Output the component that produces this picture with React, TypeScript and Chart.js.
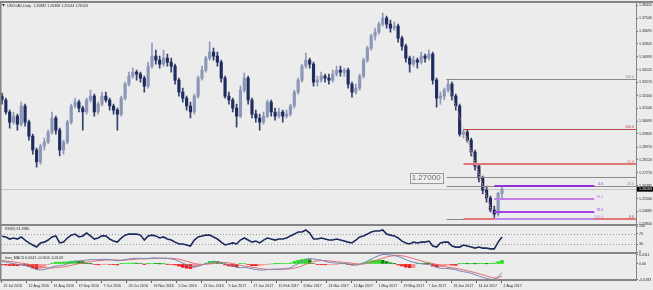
import React, { useEffect, useRef } from 'react';
import { Chart, registerables } from 'chart.js';

Chart.register(...registerables);

const BG = '#ececec';
const FRAME = '#858585';
const FONT = '"Liberation Sans", Arial, sans-serif';
const SMALL = 3.6;

// ---------- texts ----------
const headerSymbol = 'USDCAD,Daily';
const headerOHLC = ['1.25882', '1.26368', '1.25544', '1.26163'];
const rsiLabel = 'RSI(9) 61.3980';
const macdLabel = 'Ines_MACD 0.0041 -0.0103 -0.0143';

// ---------- axes ----------
const dateLabels = ['25 Jul 2016', '12 Aug 2016', '31 Aug 2016', '19 Sep 2016', '7 Oct 2016', '26 Oct 2016', '16 Nov 2016', '5 Dec 2016', '21 Dec 2016', '9 Jan 2017', '27 Jan 2017', '15 Feb 2017', '6 Mar 2017', '24 Mar 2017', '12 Apr 2017', '1 May 2017', '19 May 2017', '7 Jun 2017', '26 Jun 2017', '14 Jul 2017', '2 Aug 2017'];
const dateTickBars = [0, 6.5, 13, 19.5, 26, 32.5, 39, 45.5, 52, 58.5, 65, 71.5, 78, 84.5, 91, 97.5, 104, 110.5, 117, 123.5, 130];
const priceTicks = [1.2384, 1.24685, 1.2554, 1.26385, 1.2727, 1.2812, 1.2897, 1.29845, 1.30695, 1.3154, 1.324, 1.3327, 1.3412, 1.34995, 1.35845, 1.36695, 1.3754, 1.3842];
const rsiTicks = [0, 30, 70, 100];
const rsiLevels = [30, 70];
const macdTicks = [-0.0183, 0, 0.0111];

// ---------- price bars (2-day bars) ----------
const barOpen = [1.3236,1.3210,1.3130,1.3063,1.3103,1.3050,1.3170,1.3063,1.2970,1.2877,
1.2797,1.2903,1.2930,1.2996,1.3090,1.3010,1.2877,1.2930,1.3063,1.3170,
1.3196,1.3156,1.3130,1.3210,1.3236,1.3130,1.3183,1.3236,1.3210,1.3170,
1.3143,1.3116,1.3223,1.3316,1.3369,1.3396,1.3383,1.3356,1.3303,1.3436,
1.3502,1.3476,1.3449,1.3489,1.3463,1.3436,1.3343,1.3263,1.3223,1.3170,
1.3130,1.3236,1.3356,1.3409,1.3489,1.3529,1.3502,1.3463,1.3356,1.3236,
1.3210,1.3156,1.3103,1.3276,1.3356,1.3210,1.3116,1.3090,1.3063,1.3103,
1.3196,1.3130,1.3103,1.3130,1.3103,1.3116,1.3170,1.3263,1.3343,1.3436,
1.3476,1.3449,1.3329,1.3343,1.3369,1.3356,1.3343,1.3383,1.3409,1.3396,
1.3409,1.3316,1.3263,1.3289,1.3369,1.3476,1.3556,1.3636,1.3662,1.3716,
1.3756,1.3716,1.3689,1.3702,1.3622,1.3569,1.3489,1.3449,1.3476,1.3463,
1.3502,1.3489,1.3516,1.3343,1.3223,1.3236,1.3276,1.3316,1.3236,1.3170,
1.2983,1.2996,1.2943,1.2863,1.2770,1.2690,1.2610,1.2557,1.2477,1.2450,
1.2588];
const barHigh = [1.3256,1.3223,1.3143,1.3130,1.3116,1.3196,1.3183,1.3076,1.2983,1.2890,
1.2917,1.2957,1.3010,1.3130,1.3103,1.3023,1.2943,1.3076,1.3183,1.3223,
1.3210,1.3170,1.3223,1.3276,1.3249,1.3196,1.3263,1.3263,1.3223,1.3183,
1.3156,1.3236,1.3329,1.3396,1.3423,1.3409,1.3396,1.3369,1.3463,1.3589,
1.3542,1.3502,1.3542,1.3516,1.3489,1.3449,1.3356,1.3289,1.3236,1.3196,
1.3249,1.3369,1.3436,1.3502,1.3596,1.3556,1.3529,1.3476,1.3369,1.3263,
1.3223,1.3183,1.3303,1.3389,1.3369,1.3223,1.3143,1.3116,1.3130,1.3210,
1.3210,1.3156,1.3156,1.3143,1.3143,1.3183,1.3276,1.3356,1.3449,1.3522,
1.3489,1.3463,1.3369,1.3396,1.3383,1.3383,1.3409,1.3436,1.3436,1.3423,
1.3423,1.3329,1.3316,1.3383,1.3489,1.3569,1.3649,1.3689,1.3729,1.3789,
1.3769,1.3742,1.3729,1.3716,1.3636,1.3582,1.3502,1.3502,1.3489,1.3529,
1.3516,1.3542,1.3529,1.3356,1.3263,1.3289,1.3349,1.3329,1.3249,1.3183,
1.3016,1.3010,1.2957,1.2877,1.2783,1.2704,1.2637,1.2570,1.2504,1.2597,
1.2637];
const barLow = [1.3183,1.3116,1.3023,1.3050,1.3010,1.3036,1.3036,1.2943,1.2850,1.2763,
1.2783,1.2877,1.2917,1.2983,1.2983,1.2837,1.2850,1.2917,1.3050,1.3156,
1.3130,1.3010,1.3116,1.3196,1.3103,1.3116,1.3170,1.3196,1.3143,1.3116,
1.3010,1.3103,1.3210,1.3303,1.3356,1.3343,1.3329,1.3263,1.3289,1.3423,
1.3449,1.3423,1.3436,1.3436,1.3396,1.3316,1.3236,1.3196,1.3143,1.3090,
1.3116,1.3223,1.3343,1.3396,1.3476,1.3476,1.3436,1.3329,1.3223,1.3183,
1.3130,1.3030,1.3090,1.3263,1.3183,1.3090,1.3063,1.3010,1.3050,1.3090,
1.3103,1.3076,1.3090,1.3063,1.3090,1.3103,1.3156,1.3249,1.3329,1.3423,
1.3423,1.3303,1.3303,1.3329,1.3329,1.3316,1.3329,1.3369,1.3369,1.3369,
1.3289,1.3229,1.3249,1.3276,1.3356,1.3463,1.3542,1.3609,1.3649,1.3702,
1.3689,1.3662,1.3676,1.3596,1.3542,1.3463,1.3396,1.3436,1.3423,1.3449,
1.3463,1.3476,1.3316,1.3163,1.3183,1.3210,1.3263,1.3210,1.3143,1.2970,
1.2957,1.2930,1.2837,1.2743,1.2664,1.2584,1.2530,1.2464,1.2417,1.2437,
1.2554];
const barClose = [1.3210,1.3130,1.3063,1.3103,1.3050,1.3170,1.3063,1.2970,1.2877,1.2797,
1.2903,1.2930,1.2996,1.3090,1.3010,1.2877,1.2930,1.3063,1.3170,1.3196,
1.3156,1.3130,1.3210,1.3236,1.3130,1.3183,1.3236,1.3210,1.3170,1.3143,
1.3116,1.3223,1.3316,1.3369,1.3396,1.3383,1.3356,1.3303,1.3436,1.3502,
1.3476,1.3449,1.3489,1.3463,1.3436,1.3343,1.3263,1.3223,1.3170,1.3130,
1.3236,1.3356,1.3409,1.3489,1.3529,1.3502,1.3463,1.3356,1.3236,1.3210,
1.3156,1.3103,1.3276,1.3356,1.3210,1.3116,1.3090,1.3063,1.3103,1.3196,
1.3130,1.3103,1.3130,1.3103,1.3116,1.3170,1.3263,1.3343,1.3436,1.3476,
1.3449,1.3329,1.3343,1.3369,1.3356,1.3343,1.3383,1.3409,1.3396,1.3409,
1.3316,1.3263,1.3289,1.3369,1.3476,1.3556,1.3636,1.3662,1.3716,1.3756,
1.3716,1.3689,1.3702,1.3622,1.3569,1.3489,1.3449,1.3476,1.3463,1.3502,
1.3489,1.3516,1.3343,1.3223,1.3236,1.3276,1.3316,1.3236,1.3170,1.2983,
1.2996,1.2943,1.2863,1.2770,1.2690,1.2610,1.2557,1.2477,1.2450,1.2588,
1.2616];

// ---------- indicators ----------
const rsiValues = [61,58,50,54,50,58,46,35,27,19,
35,38,46,58,62,35,38,54,65,69,
58,62,73,62,50,54,62,62,50,42,
38,54,65,69,69,69,65,46,62,65,
62,54,58,50,46,38,31,31,27,23,
46,58,62,65,65,58,50,38,27,31,
35,31,46,54,46,38,42,35,46,54,
50,46,50,50,54,62,69,77,77,85,
73,50,50,54,50,46,46,50,46,42,
38,35,46,58,62,69,77,81,81,85,
69,65,62,54,42,35,31,38,35,38,
38,42,23,19,35,38,38,23,19,19,
27,23,19,15,19,15,15,12,12,38,
58];
const macdMain = [0.0030,0.0022,0.0012,0.0004,-0.0005,-0.0008,-0.0016,-0.0030,-0.0048,-0.0066,
-0.0070,-0.0066,-0.0054,-0.0036,-0.0024,-0.0020,-0.0012,0.0000,0.0016,0.0030,
0.0036,0.0040,0.0046,0.0052,0.0050,0.0050,0.0054,0.0054,0.0050,0.0044,
0.0038,0.0042,0.0050,0.0058,0.0064,0.0066,0.0066,0.0060,0.0064,0.0070,
0.0070,0.0068,0.0068,0.0064,0.0060,0.0050,0.0030,0.0010,-0.0010,-0.0028,
-0.0034,-0.0026,-0.0012,0.0004,0.0018,0.0026,0.0028,0.0020,0.0004,-0.0012,
-0.0026,-0.0040,-0.0044,-0.0040,-0.0046,-0.0058,-0.0066,-0.0072,-0.0072,-0.0066,
-0.0064,-0.0062,-0.0060,-0.0058,-0.0054,-0.0046,-0.0020,0.0004,0.0030,0.0054,
0.0064,0.0058,0.0050,0.0046,0.0030,0.0020,0.0014,0.0010,0.0008,0.0006,
0.0000,-0.0010,-0.0014,-0.0006,0.0012,0.0034,0.0058,0.0080,0.0098,0.0111,
0.0110,0.0106,0.0100,0.0088,0.0072,0.0050,0.0032,0.0020,0.0010,0.0002,
-0.0004,-0.0006,-0.0020,-0.0040,-0.0050,-0.0054,-0.0054,-0.0060,-0.0068,-0.0082,
-0.0092,-0.0098,-0.0110,-0.0126,-0.0142,-0.0158,-0.0170,-0.0180,-0.0183,-0.0150,
-0.0103];
const macdSignal = [0.0040,0.0036,0.0030,0.0024,0.0016,0.0010,0.0004,-0.0004,-0.0014,-0.0026,
-0.0036,-0.0044,-0.0048,-0.0048,-0.0044,-0.0040,-0.0034,-0.0026,-0.0016,-0.0006,
0.0004,0.0012,0.0020,0.0028,0.0034,0.0038,0.0042,0.0046,0.0048,0.0048,
0.0046,0.0045,0.0046,0.0049,0.0053,0.0057,0.0060,0.0061,0.0062,0.0064,
0.0066,0.0067,0.0067,0.0067,0.0066,0.0062,0.0055,0.0045,0.0032,0.0018,
0.0006,-0.0002,-0.0006,-0.0005,0.0000,0.0006,0.0012,0.0016,0.0016,0.0012,
0.0004,-0.0006,-0.0016,-0.0024,-0.0030,-0.0038,-0.0046,-0.0054,-0.0060,-0.0063,
-0.0064,-0.0064,-0.0063,-0.0062,-0.0060,-0.0057,-0.0050,-0.0038,-0.0022,-0.0004,
0.0014,0.0028,0.0036,0.0040,0.0040,0.0036,0.0032,0.0027,0.0022,0.0018,
0.0014,0.0008,0.0002,-0.0002,0.0000,0.0008,0.0020,0.0036,0.0052,0.0068,
0.0082,0.0092,0.0098,0.0100,0.0096,0.0088,0.0076,0.0062,0.0048,0.0036,
0.0024,0.0014,0.0006,-0.0006,-0.0018,-0.0030,-0.0040,-0.0046,-0.0052,-0.0060,
-0.0070,-0.0080,-0.0090,-0.0102,-0.0114,-0.0128,-0.0142,-0.0155,-0.0166,-0.0163,
-0.0143];
const macdHist = [-0.0010,-0.0014,-0.0018,-0.0020,-0.0021,-0.0018,-0.0020,-0.0030,-0.0048,-0.0060,
-0.0050,-0.0030,-0.0008,0.0010,0.0020,0.0020,0.0022,0.0026,0.0032,0.0036,
0.0032,0.0028,0.0010,0.0002,-0.0006,-0.0010,-0.0008,-0.0006,-0.0006,-0.0008,
-0.0012,0.0002,0.0006,0.0009,0.0011,0.0009,0.0006,-0.0001,0.0002,0.0006,
0.0004,0.0001,0.0001,-0.0003,-0.0006,-0.0012,-0.0025,-0.0040,-0.0050,-0.0055,
-0.0042,-0.0024,-0.0006,0.0009,0.0030,0.0034,0.0026,0.0004,-0.0012,-0.0024,
-0.0030,-0.0034,0.0004,0.0006,-0.0004,-0.0020,-0.0020,-0.0018,-0.0012,-0.0003,
0.0000,0.0002,0.0003,0.0004,0.0006,0.0011,0.0030,0.0042,0.0052,0.0058,
0.0050,0.0006,-0.0004,-0.0008,-0.0010,-0.0008,-0.0006,-0.0002,0.0002,0.0002,
-0.0004,-0.0012,-0.0010,0.0000,0.0012,0.0026,0.0038,0.0044,0.0046,0.0043,
0.0028,0.0014,0.0002,-0.0012,-0.0024,-0.0038,-0.0044,-0.0042,0.0002,0.0003,
0.0002,0.0001,-0.0026,-0.0034,-0.0032,-0.0024,-0.0014,-0.0014,-0.0016,0.0002,
0.0003,0.0002,0.0003,0.0002,0.0003,0.0003,0.0002,0.0003,0.0010,0.0026,
0.0041];

// ---------- drawn objects ----------
const bidPrice = 1.26163;
const bidLabel = '1.26163';
const hLinePrice = 1.27;
const hLineLabel = '1.27000';
const hLineStartBar = 115.6;
const fibGrayBar = 115.6;
const fibGrayP100 = 1.3349;
const fibGrayP0 = 1.2417;
const fibGrayLevels = [100, 23.6, 0];
const fibRedBar = 120;
const fibRedP100 = 1.3016;
const fibRedP0 = 1.2417;
const fibRedLevels = [100, 61.8, 0];
const fibPurpleBar = 128;
const fibPurpleEndBar = 154;
const fibPurpleP0 = 1.2637;
const fibPurpleP100 = 1.2417;
const fibPurpleLevels = [0, 38.2, 78.6, 100];

const strokeLine = (ctx: any, x1: number, y1: number, x2: number, y2: number) => {
  ctx.beginPath();
  ctx.moveTo(x1, y1);
  ctx.lineTo(x2, y2);
  ctx.stroke();
};

const crisp = (v: number, w: number) => (Math.round(w) % 2 === 1 ? Math.round(v) + 0.5 : Math.round(v));

function drawFib(ctx: any, chart: any, startBar: number, endX: number, p100: number, p0: number, levels: number[], colors: string[], widths: number[], labelX: number) {
  const xs = chart.scales.x.getPixelForValue(startBar);
  const ys = chart.scales.y;
  levels.forEach((lv, i) => {
    const price = p0 + ((p100 - p0) * lv) / 100;
    const py = crisp(ys.getPixelForValue(price), widths[i]);
    ctx.strokeStyle = colors[i];
    ctx.lineWidth = widths[i];
    strokeLine(ctx, xs, py, endX, py);
    ctx.fillStyle = colors[i];
    ctx.font = `${SMALL}px ${FONT}`;
    ctx.textAlign = 'right';
    ctx.textBaseline = 'bottom';
    ctx.fillText(lv.toFixed(1), labelX, py - 0.6);
  });
}

const overlay = {
  id: 'mtOverlay',
  beforeDraw(chart: any) {
    const { ctx, width, height } = chart;
    ctx.save();
    ctx.fillStyle = BG;
    ctx.fillRect(0, 0, width, height);
    ctx.restore();
  },
  beforeDatasetsDraw(chart: any) {
    const { ctx, chartArea, scales } = chart;
    ctx.save();
    const by = crisp(scales.y.getPixelForValue(bidPrice), 1);
    ctx.strokeStyle = '#c6c6c6';
    ctx.lineWidth = 1;
    strokeLine(ctx, chartArea.left, by, chartArea.right, by);
    ctx.setLineDash([1, 2]);
    ctx.strokeStyle = '#9a9a9a';
    rsiLevels.forEach((lv) => {
      const py = crisp(scales.yRsi.getPixelForValue(lv), 1);
      strokeLine(ctx, chartArea.left, py, chartArea.right, py);
    });
    ctx.restore();
  },
  afterDatasetsDraw(chart: any) {
    const { ctx, chartArea, scales } = chart;
    const x = scales.x;
    const y = scales.y;
    ctx.save();
    const right = chartArea.right;
    ctx.setLineDash([1, 1.5]);
    ctx.strokeStyle = '#e3a48c';
    ctx.lineWidth = 1;
    strokeLine(ctx, x.getPixelForValue(fibGrayBar), y.getPixelForValue(fibGrayP100), x.getPixelForValue(fibPurpleBar), y.getPixelForValue(fibGrayP0));
    strokeLine(ctx, x.getPixelForValue(fibRedBar), y.getPixelForValue(fibRedP100), x.getPixelForValue(fibPurpleBar), y.getPixelForValue(fibRedP0));
    ctx.setLineDash([]);
    const hy = crisp(y.getPixelForValue(hLinePrice), 1);
    const hx = x.getPixelForValue(hLineStartBar);
    ctx.strokeStyle = '#8a8a8a';
    ctx.lineWidth = 1;
    strokeLine(ctx, hx, hy, right, hy);
    ctx.font = `8px ${FONT}`;
    const tw = ctx.measureText(hLineLabel).width;
    const bx = hx - 4 - tw - 4;
    ctx.fillStyle = '#efefef';
    ctx.fillRect(bx, hy - 5, tw + 4, 10);
    ctx.strokeStyle = '#9a9a9a';
    ctx.strokeRect(Math.round(bx) + 0.5, Math.round(hy - 5) + 0.5, Math.round(tw + 4), 10);
    ctx.fillStyle = '#6e6e6e';
    ctx.textAlign = 'left';
    ctx.textBaseline = 'middle';
    ctx.fillText(hLineLabel, bx + 2, hy + 0.5);
    drawFib(ctx, chart, fibGrayBar, right, fibGrayP100, fibGrayP0, fibGrayLevels, ['#8a8a8a', '#8a8a8a', '#8a8a8a'], [1, 1, 1], right - 2);
    drawFib(ctx, chart, fibRedBar, right, fibRedP100, fibRedP0, fibRedLevels, ['#b54646', '#e07878', '#e07878'], [1, 2, 2], right - 2);
    const pEnd = x.getPixelForValue(fibPurpleEndBar);
    drawFib(ctx, chart, fibPurpleBar, pEnd, fibPurpleP100, fibPurpleP0, fibPurpleLevels, ['#9030d8', '#c47ee6', '#a443e6', '#bb86e8'], [2, 2, 2, 2], pEnd + 9);
    ctx.restore();
  },
  afterDraw(chart: any) {
    const { ctx, chartArea, scales, width } = chart;
    const y = scales.y;
    const yR = scales.yRsi;
    const yM = scales.yMacd;
    ctx.save();
    ctx.fillStyle = FRAME;
    ctx.fillRect(0, 1, width, 2);
    ctx.fillRect(0, 1, 1.5, yM.bottom);
    ctx.fillRect(chartArea.right, 1, 1, yM.bottom);
    [y.bottom, yR.bottom, yM.bottom].forEach((b: number) => {
      ctx.fillRect(0, Math.round(b) - 1, chartArea.right, 2);
    });
    ctx.fillStyle = '#2b2b2b';
    ctx.beginPath();
    ctx.moveTo(2, 4);
    ctx.lineTo(5, 4);
    ctx.lineTo(3.5, 6.5);
    ctx.closePath();
    ctx.fill();
    ctx.font = `${SMALL}px ${FONT}`;
    ctx.textAlign = 'left';
    ctx.textBaseline = 'middle';
    ctx.fillText(`${headerSymbol}  ${headerOHLC.join(' ')}`, 7, 5.5);
    ctx.fillText(rsiLabel, 5, yR.top + 4);
    ctx.fillText(macdLabel, 5, yM.top + 4.5);
    const by = y.getPixelForValue(bidPrice);
    ctx.fillStyle = '#000000';
    ctx.fillRect(chartArea.right + 1, by - 2.5, width - chartArea.right - 1, 5);
    ctx.fillStyle = '#ffffff';
    ctx.fillText(bidLabel, chartArea.right + 3, by + 0.2);
    ctx.restore();
  },
};

const tickFont = { size: SMALL, family: FONT };

export default function App() {
  const ref = useRef<HTMLCanvasElement>(null);
  useEffect(() => {
    const canvas = ref.current;
    if (!canvas) return;
    const idx = barClose.map((_, i) => i);
    const rising = idx.map((i) => barClose[i] >= barOpen[i]);
    const histColor = idx.map((i) => {
      const h = macdHist[i];
      const prev = i > 0 ? macdHist[i - 1] : h;
      if (h >= 0) return h >= prev ? '#1ee01e' : '#0b8c0b';
      return h <= prev ? '#ef1c1c' : '#f48a8a';
    });
    const yCommon = {
      type: 'linear',
      position: 'right',
      stack: 'panes',
      grid: { drawOnChartArea: false, drawTicks: true, tickLength: 2, color: '#666' },
      border: { display: false },
      afterFit: (s: any) => { s.width = 17; },
    };
    const chart = new Chart(canvas, {
      type: 'bar',
      data: {
        datasets: [
          { type: 'line', label: 'RSI', xAxisID: 'x', yAxisID: 'yRsi', data: idx.map((i) => ({ x: i, y: rsiValues[i] })), borderColor: '#1b2a5c', borderWidth: 1.6, pointRadius: 0, order: 0 },
          { type: 'line', label: 'MACD', xAxisID: 'x', yAxisID: 'yMacd', data: idx.map((i) => ({ x: i, y: macdMain[i] })), borderColor: '#7886b6', borderWidth: 1, pointRadius: 0, order: 0 },
          { type: 'line', label: 'Signal', xAxisID: 'x', yAxisID: 'yMacd', data: idx.map((i) => ({ x: i, y: macdSignal[i] })), borderColor: '#e07070', borderWidth: 1, pointRadius: 0, order: 0 },
          { type: 'bar', label: 'Body', xAxisID: 'x', yAxisID: 'y', data: idx.map((i) => ({ x: i, y: [barOpen[i], barClose[i]] })), backgroundColor: idx.map((i) => (rising[i] ? '#8c96b6' : '#1f2c5e')), barThickness: 2.5, grouped: false, borderWidth: 0, order: 1 },
          { type: 'bar', label: 'Wick', xAxisID: 'x', yAxisID: 'y', data: idx.map((i) => ({ x: i, y: [barLow[i], barHigh[i]] })), backgroundColor: idx.map((i) => (rising[i] ? '#8f99b9' : '#34416f')), barThickness: 1, grouped: false, borderWidth: 0, order: 2 },
          { type: 'bar', label: 'OsMA', xAxisID: 'x', yAxisID: 'yMacd', data: idx.map((i) => ({ x: i, y: macdHist[i] })), backgroundColor: histColor, barThickness: 3, grouped: false, borderWidth: 0, order: 3 },
        ],
      } as any,
      options: {
        responsive: false,
        animation: false,
        devicePixelRatio: 1,
        events: [],
        layout: { padding: { top: 3, left: 1, right: 0, bottom: 0 } },
        plugins: { legend: { display: false }, tooltip: { enabled: false } },
        scales: {
          x: {
            type: 'linear',
            position: 'bottom',
            min: -0.26,
            max: 164.85,
            offset: false,
            grid: { offset: false, drawOnChartArea: false, drawTicks: true, tickLength: 3, color: '#666' },
            border: { display: false },
            afterBuildTicks: (s: any) => { s.ticks = dateTickBars.map((v) => ({ value: v })); },
            afterFit: (s: any) => { s.height = 10; },
            ticks: {
              autoSkip: false,
              maxRotation: 0,
              minRotation: 0,
              align: 'start',
              labelOffset: 1.5,
              padding: 0.5,
              color: '#2b2b2b',
              font: tickFont,
              callback: (_v: any, i: number) => dateLabels[i],
            },
          },
          y: {
            ...yCommon,
            stackWeight: 222,
            min: 1.23773,
            max: 1.38553,
            afterBuildTicks: (s: any) => { s.ticks = priceTicks.map((v) => ({ value: v })); },
            ticks: { autoSkip: false, padding: 1, color: '#2b2b2b', font: tickFont, callback: (v: any) => Number(v).toFixed(5) },
          },
          yRsi: {
            ...yCommon,
            stackWeight: 28,
            min: -3.85,
            max: 103.85,
            afterBuildTicks: (s: any) => { s.ticks = rsiTicks.map((v) => ({ value: v })); },
            ticks: { autoSkip: false, padding: 1, color: '#2b2b2b', font: tickFont, callback: (v: any) => String(v) },
          },
          yMacd: {
            ...yCommon,
            stackWeight: 27,
            min: -0.018888,
            max: 0.012864,
            afterBuildTicks: (s: any) => { s.ticks = macdTicks.map((v) => ({ value: v })); },
            ticks: { autoSkip: false, padding: 1, color: '#2b2b2b', font: tickFont, callback: (v: any) => (Number(v) === 0 ? '0.00' : Number(v).toFixed(4)) },
          },
        },
      } as any,
      plugins: [overlay],
    });
    return () => chart.destroy();
  }, []);
  return (
    <div style={{ position: 'absolute', left: 0, top: 0, width: 653, height: 290, background: BG }}>
      <canvas ref={ref} width={653} height={290} style={{ display: 'block', width: 653, height: 290 }} />
    </div>
  );
}
